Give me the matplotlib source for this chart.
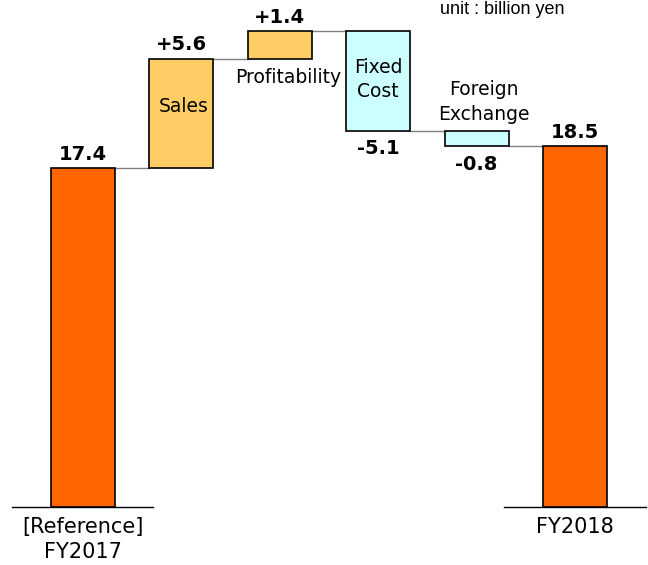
import matplotlib
matplotlib.use("Agg")
import matplotlib.pyplot as plt

# waterfall data (billion yen)
steps = ["[Reference]\nFY2017", "Sales", "Profitability", "Fixed\nCost", "Foreign\nExchange", "FY2018"]
deltas = [17.4, 5.6, 1.4, -5.1, -0.8, 18.5]
value_labels = ["17.4", "+5.6", "+1.4", "-5.1", "-0.8", "18.5"]
kinds = ["total", "up", "up", "down", "down", "total"]

COLORS = {"total": "#FF6600", "up": "#FFCC66", "down": "#CCFFFF"}
WIDTH = 0.65


def main():
    fig = plt.figure(figsize=(6.48, 5.65), dpi=100)
    ax = fig.add_axes([0, 0, 1, 1])

    bottoms, tops = [], []
    level = 0.0
    for d, k in zip(deltas, kinds):
        if k == "total":
            b, t = 0.0, d
            level = d
        else:
            b, t = sorted([level, level + d])
            level += d
        bottoms.append(b)
        tops.append(t)

    xs = list(range(len(deltas)))
    heights = [t - b for b, t in zip(bottoms, tops)]
    ax.bar(xs, heights, bottom=bottoms, width=WIDTH,
           color=[COLORS[k] for k in kinds], edgecolor="black", linewidth=1.2, zorder=3)

    # connectors
    running = 0.0
    for i in range(len(deltas) - 1):
        running = deltas[i] if kinds[i] == "total" else running + deltas[i]
        ax.plot([i + WIDTH / 2, i + 1 - WIDTH / 2], [running, running],
                color="#808080", linewidth=1, zorder=2)

    # baselines under the total bars
    for i in (0, 5):
        ax.plot([i - 0.72, i + 0.72], [0, 0], color="black", linewidth=1, zorder=2)

    # value labels
    for i, (lab, k) in enumerate(zip(value_labels, kinds)):
        if k == "down":
            ax.annotate(lab, (i, bottoms[i]), xytext=(0, -6), textcoords="offset points",
                        ha="center", va="top", fontsize=14, fontweight="bold")
        else:
            ax.annotate(lab, (i, tops[i]), xytext=(0, 3), textcoords="offset points",
                        ha="center", va="bottom", fontsize=14, fontweight="bold")

    # category labels
    cat_fs = 13.5
    ax.annotate(steps[1], (1.03, (bottoms[1] + tops[1]) / 2), xytext=(0, 5), textcoords="offset points",
                ha="center", va="center", fontsize=cat_fs)
    ax.annotate(steps[2], (2.09, bottoms[2]), xytext=(0, -7), textcoords="offset points",
                ha="center", va="top", fontsize=cat_fs)
    ax.annotate(steps[3], (3, tops[3]), xytext=(0, -35), textcoords="offset points",
                ha="center", va="center", fontsize=cat_fs, linespacing=1.35)
    ax.annotate(steps[4], (4.07, tops[4]), xytext=(0, 5), textcoords="offset points",
                ha="center", va="bottom", fontsize=cat_fs, linespacing=1.35)
    ax.annotate(steps[0], (0, 0), xytext=(0, -7), textcoords="offset points",
                ha="center", va="top", fontsize=15, linespacing=1.3)
    ax.annotate(steps[5], (5, 0), xytext=(0, -7), textcoords="offset points",
                ha="center", va="top", fontsize=15)

    ax.text(0.775, 0.999, "unit : billion yen", transform=ax.transAxes,
            ha="center", va="top", fontsize=13, family="Liberation Sans")

    ax.set_xlim(-0.838, 5.741)
    ax.set_ylim(-2.97, 26.0)
    ax.axis("off")

    fig.savefig("out.png", dpi=100)
    plt.close(fig)


if __name__ == "__main__":
    main()
